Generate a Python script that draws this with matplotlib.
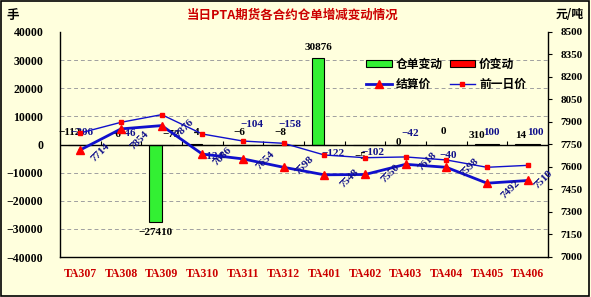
import matplotlib
matplotlib.use("Agg")
import matplotlib.pyplot as plt
from matplotlib.patches import Patch
from matplotlib.lines import Line2D
import numpy as np

# ---------------- data ----------------
categories = ["TA307", "TA308", "TA309", "TA310", "TA311", "TA312",
              "TA401", "TA402", "TA403", "TA404", "TA405", "TA406"]
warehouse_change = [-112, -6, -27410, 4, -6, -8, 30876, -5, 0, 0, 310, 14]
price_change = [-206, -46, -72, -124, -104, -158, -122, -102, -42, -40, 100, 100]
settle_price = [7714, 7854, 7876, 7686, 7654, 7598, 7548, 7550, 7618, 7598, 7492, 7510]
prev_price = [7827, 7898, 7949, 7820, 7773, 7758, 7680, 7662, 7667, 7647, 7598, 7611]
left_ticks = [-40000, -30000, -20000, -10000, 0, 10000, 20000, 30000, 40000]
right_ticks = [7000, 7150, 7300, 7450, 7600, 7750, 7900, 8050, 8200, 8350, 8500]

# ---------------- label layout (pixel offsets) ----------------
wh_off = [(-11, 12), (-6, 10), (0, -11), (-6, 12), (-4, 12), (-3, 12),
          (0, 10), (-5, -12), (-7, 2), (-3, 13), (-10, 9), (-7, 9)]
pc_off = [(2, 12), (6, 11), (9, 10), (10, -12), (9, 20), (6, 20),
          (9, -9), (8, -8), (5, 11), (2, -11), (4, 12), (8, 12)]
pc_col = ["#10108A"] * 12
pc_col[2] = "black"
st_off = [(20, -3), (18, -11), (23, -3), (20, -2), (22, -2), (21, 2),
          (25, -4), (25, 1), (22, 3), (23, 0), (23, -6), (16, 1)]

BG = "#FFFFDD"
NUMFONT = "Liberation Serif"
CJK = ["Noto Sans CJK SC", "DejaVu Sans"]

fig = plt.figure(figsize=(5.91, 2.97), dpi=100, facecolor=BG)
fig.patches.append(plt.Rectangle((0.002, 0.004), 0.995, 0.992, transform=fig.transFigure,
                                 fill=False, edgecolor="black", linewidth=1.2))
W, H = 591, 297
ax = fig.add_axes([60 / W, 1 - 257 / H, (548 - 60) / W, (257 - 32) / H])
ax.set_facecolor(BG)
x = np.arange(len(categories))

bw = 0.3
ax.bar(x - bw / 2, warehouse_change, width=bw, color="#33F033", edgecolor="black",
       linewidth=0.8, zorder=3)
ax.bar(x + bw / 2, price_change, width=bw, color="#FF0000", edgecolor="black",
       linewidth=0.8, zorder=3)
ax.set_ylim(-40000, 40000)
ax.set_xlim(-0.5, len(categories) - 0.5)
ax.set_yticks(left_ticks)
ax.set_yticklabels([f"{v}".replace("-", "\u2212") for v in left_ticks],
                   fontfamily=NUMFONT, fontweight="bold", fontsize=8.5)
ax.tick_params(axis="y", length=0, pad=12)
for v in left_ticks:
    if v not in (0, 40000, -40000):
        ax.axhline(v, color="#A0A0A0", linestyle=(0, (4, 3)), linewidth=0.7, zorder=1)
ax.axhline(0, color="black", linewidth=1.0, zorder=4)
ax.vlines(x[:-1] + 0.5, 0, 1100, color="black", linewidth=0.8, zorder=4)
ax.set_xticks(x)
ax.set_xticklabels(categories, fontfamily=NUMFONT, fontweight="bold", fontsize=8.5,
                   color="#CC0000")
ax.tick_params(axis="x", length=0, pad=8)
ax.spines["top"].set_visible(False)
ax.spines["right"].set_visible(False)
for s in ("left", "bottom"):
    ax.spines[s].set_linewidth(1.0)

# labels for bars
for i in range(len(categories)):
    v = warehouse_change[i]
    anchor = (i - bw / 2, v) if abs(v) > 1000 else (i, 0)
    ax.annotate(f"{v}".replace("-", "\u2212"), anchor, xytext=wh_off[i],
                textcoords="offset pixels", ha="center", va="center",
                fontfamily=NUMFONT, fontweight="bold", fontsize=8, color="black", zorder=6)
    ax.annotate(f"{price_change[i]}".replace("-", "\u2212"), (i, 0), xytext=pc_off[i],
                textcoords="offset pixels", ha="center", va="center",
                fontfamily=NUMFONT, fontweight="bold", fontsize=8, color=pc_col[i], zorder=6)

# right axis
ax2 = ax.twinx()
ax2.set_ylim(7000, 8500)
ax2.set_yticks(right_ticks)
ax2.set_yticklabels([str(v) for v in right_ticks], fontfamily=NUMFONT,
                    fontweight="bold", fontsize=8)
ax2.tick_params(axis="y", length=3, width=0.8, direction="out", pad=6)
for s in ("top", "left", "bottom"):
    ax2.spines[s].set_visible(False)
ax2.spines["right"].set_linewidth(1.0)
ax2.plot(x, prev_price, color="#1010CC", linewidth=1.0, marker="s", markersize=2.5,
         markerfacecolor="#FF0000", markeredgecolor="#FF0000", zorder=5)
ax2.plot(x, settle_price, color="#1010CC", linewidth=2.0, marker="^", markersize=6,
         markerfacecolor="#FF0000", markeredgecolor="#FF0000", zorder=6)
for i, v in enumerate(settle_price):
    ax2.annotate(str(v), (i, v), xytext=st_off[i], textcoords="offset pixels",
                 ha="center", va="center", rotation=45, fontfamily=NUMFONT,
                 fontweight="bold", fontsize=8, color="#10108A", zorder=7)

# titles
fig.text(293 / W, 1 - 15 / H, "当日PTA期货各合约仓单增减变动情况", ha="center", va="center",
         fontfamily=CJK, fontweight="bold", fontsize=9, color="#CC0000")
fig.text(13 / W, 1 - 15 / H, "手", ha="center", va="center", fontfamily=CJK,
         fontweight="bold", fontsize=9)
fig.text(570 / W, 1 - 15 / H, "元/吨", ha="center", va="center", fontfamily=CJK,
         fontweight="bold", fontsize=8.5)

handles = [Patch(facecolor="#33F033", edgecolor="black", linewidth=0.8),
           Line2D([], [], color="#1010CC", linewidth=2.0, marker="^", markersize=6,
                  markerfacecolor="#FF0000", markeredgecolor="#FF0000"),
           Patch(facecolor="#FF0000", edgecolor="black", linewidth=0.8),
           Line2D([], [], color="#1010CC", linewidth=1.0, marker="s", markersize=2.5,
                  markerfacecolor="#FF0000", markeredgecolor="#FF0000")]
labels = ["仓单变动", "结算价", "价变动", "前一日价"]
leg = fig.legend(handles, labels, loc="upper left", bbox_to_anchor=(360 / W, 1 - 52 / H),
                 ncol=2, frameon=False, prop={"family": CJK, "weight": "bold", "size": 8.5},
                 handlelength=2.2, handleheight=0.6, handletextpad=0.3, columnspacing=0.6,
                 labelspacing=0.6, borderpad=0)

fig.savefig("out.png", dpi=100, facecolor=BG)
